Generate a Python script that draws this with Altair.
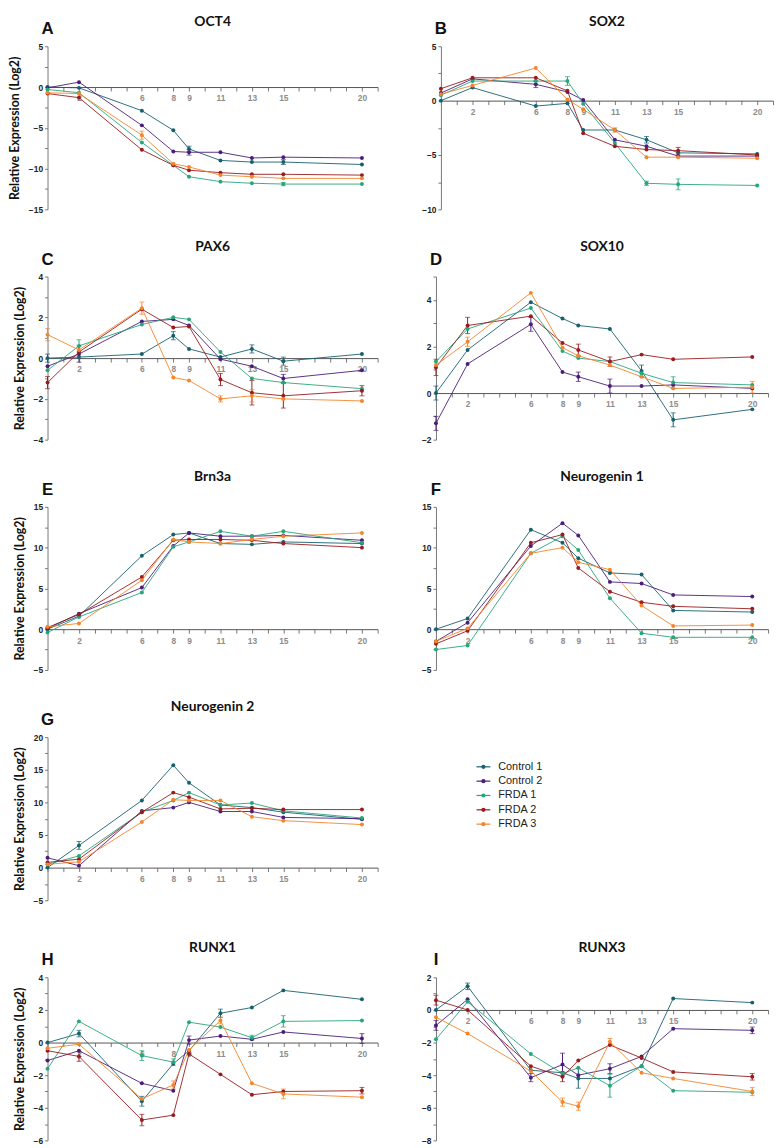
import altair as alt
import pandas as pd

days = [0, 2, 6, 8, 9, 11, 13, 15, 20]
label_days = [2, 6, 8, 9, 11, 13, 15, 20]
series = ["Control 1", "Control 2", "FRDA 1", "FRDA 2", "FRDA 3"]
colors = ["#17606e", "#4b1d7a", "#27a57c", "#981b1e", "#f5852b"]

oct4 = {
    "Control 1": [0, -0.1, -2.9, -5.3, -7.6, -9.0, -9.2, -9.2, -9.5],
    "Control 2": [-0.1, 0.6, -4.7, -7.9, -8.0, -8.0, -8.7, -8.6, -8.7],
    "FRDA 1": [-0.3, -0.7, -6.8, -9.6, -11.0, -11.6, -11.8, -11.9, -11.9],
    "FRDA 2": [-0.8, -1.3, -7.7, -9.6, -10.2, -10.5, -10.7, -10.7, -10.8],
    "FRDA 3": [-0.7, -0.8, -5.9, -9.4, -9.8, -10.8, -11.0, -11.2, -11.2],
}
sox2 = {
    "Control 1": [0, 1.2, -0.5, -0.25, -2.7, -2.7, -3.6, -4.8, -4.9],
    "Control 2": [0.7, 2.0, 1.5, 0.8, 0.05, -3.6, -4.2, -5.1, -5.1],
    "FRDA 1": [0.5, 1.8, 1.8, 1.8, -0.3, -3.9, -7.6, -7.7, -7.8],
    "FRDA 2": [1.1, 2.1, 2.1, 0.9, -3.0, -4.2, -4.5, -4.6, -5.0],
    "FRDA 3": [0.6, 1.4, 3.0, 0.1, -0.8, -2.7, -5.2, -5.2, -5.3],
}
pax6 = {
    "Control 1": [0, 0.05, 0.2, 1.1, 0.45, 0.05, 0.45, -0.15, 0.2],
    "Control 2": [-0.4, 0.2, 1.8, 1.9, 1.6, -0.05, -0.4, -1.0, -0.6],
    "FRDA 1": [-0.6, 0.6, 1.65, 2.0, 1.9, 0.3, -1.0, -1.2, -1.5],
    "FRDA 2": [-1.2, 0.3, 2.4, 1.5, 1.55, -1.05, -1.7, -1.85, -1.6],
    "FRDA 3": [1.15, 0.4, 2.45, -0.95, -1.1, -2.0, -1.85, -2.0, -2.1],
}
sox10 = {
    "Control 1": [0, 1.85, 3.9, 3.2, 2.9, 2.75, 0.95, -1.15, -0.7],
    "Control 2": [-1.3, 1.25, 2.95, 0.9, 0.7, 0.3, 0.3, 0.35, 0.2],
    "FRDA 1": [1.35, 2.75, 3.65, 1.8, 1.5, 1.35, 0.85, 0.45, 0.35],
    "FRDA 2": [1.1, 2.9, 3.3, 2.15, 1.85, 1.35, 1.65, 1.45, 1.55],
    "FRDA 3": [1.2, 2.2, 4.3, 1.95, 1.6, 1.2, 0.7, 0.2, 0.25],
}
brn3a = {
    "Control 1": [0, 1.6, 9.0, 11.6, 11.8, 10.5, 10.4, 10.7, 10.5],
    "Control 2": [0.1, 1.9, 5.1, 10.2, 11.8, 11.4, 11.4, 11.5, 10.9],
    "FRDA 1": [-0.4, 1.5, 4.5, 10.1, 10.7, 12.0, 11.4, 12.0, 10.6],
    "FRDA 2": [0.2, 1.8, 6.4, 10.9, 11.0, 11.0, 10.9, 10.5, 10.0],
    "FRDA 3": [0.3, 0.7, 6.0, 11.0, 10.7, 10.5, 11.0, 11.4, 11.8],
}
ngn1 = {
    "Control 1": [0, 1.3, 12.2, 10.6, 8.7, 6.9, 6.7, 2.3, 2.1],
    "Control 2": [-1.5, 0.8, 10.2, 13.0, 11.5, 5.8, 5.6, 4.2, 4.0],
    "FRDA 1": [-2.5, -2.0, 9.3, 11.4, 9.7, 3.8, -0.5, -1.0, -1.0],
    "FRDA 2": [-1.8, -0.2, 10.6, 11.6, 7.5, 4.6, 3.3, 2.8, 2.5],
    "FRDA 3": [-1.5, 0.1, 9.3, 10.0, 8.2, 7.3, 2.9, 0.4, 0.5],
}
ngn2 = {
    "Control 1": [0, 3.4, 10.3, 15.7, 13.0, 9.6, 9.2, 8.5, 7.4],
    "Control 2": [1.5, 0.3, 8.7, 9.2, 10.0, 8.6, 8.6, 7.7, 7.5],
    "FRDA 1": [0.5, 1.8, 8.5, 10.3, 11.5, 9.6, 9.9, 8.7, 7.6],
    "FRDA 2": [0.8, 1.3, 8.5, 11.5, 10.8, 9.0, 9.1, 8.9, 8.9],
    "FRDA 3": [0.5, 0.9, 7.0, 10.4, 10.3, 10.3, 7.8, 7.2, 6.6],
}
runx1 = {
    "Control 1": [0, 0.55, -3.6, -1.3, -0.5, 1.8, 2.15, 3.2, 2.65],
    "Control 2": [-1.1, -0.5, -2.5, -2.95, 0.15, 0.4, 0.2, 0.65, 0.25],
    "FRDA 1": [-1.6, 1.3, -0.8, -1.2, 1.25, 0.95, 0.3, 1.3, 1.35],
    "FRDA 2": [-0.5, -0.85, -4.75, -4.45, -0.7, -1.95, -3.2, -3.0, -2.95],
    "FRDA 3": [-0.35, -0.1, -3.45, -2.6, -0.45, 1.35, -2.5, -3.15, -3.35],
}
runx3 = {
    "Control 1": [0, 1.45, -3.7, -3.85, -4.2, -4.2, -3.45, 0.7, 0.45],
    "Control 2": [-0.95, 0.65, -4.15, -3.35, -4.0, -3.6, -2.85, -1.15, -1.25],
    "FRDA 1": [-1.8, 0.5, -2.7, -3.9, -3.55, -4.65, -3.45, -4.95, -5.05],
    "FRDA 2": [0.6, 0.0, -3.45, -4.1, -3.1, -2.15, -2.95, -3.8, -4.1],
    "FRDA 3": [-0.45, -1.45, -3.75, -5.65, -5.9, -1.95, -3.85, -4.2, -5.0],
}

# visible error bars: (series, day, +/- error)
oct4_err = [("FRDA 3", 6, 0.5), ("Control 1", 9, 0.35), ("Control 2", 9, 0.35),
            ("Control 1", 15, 0.3), ("FRDA 1", 15, 0.2)]
sox2_err = [("FRDA 1", 8, 0.4), ("Control 2", 6, 0.3), ("Control 1", 13, 0.3),
            ("FRDA 1", 13, 0.2), ("FRDA 1", 15, 0.5), ("FRDA 2", 15, 0.3),
            ("FRDA 3", 11, 0.2)]
pax6_err = [("FRDA 3", 0, 0.3), ("FRDA 2", 0, 0.3), ("Control 1", 0, 0.2),
            ("FRDA 1", 2, 0.3), ("Control 2", 2, 0.4), ("FRDA 3", 6, 0.3),
            ("Control 1", 8, 0.2), ("FRDA 2", 11, 0.3), ("Control 1", 13, 0.2),
            ("FRDA 2", 13, 0.6), ("FRDA 2", 15, 0.6), ("Control 1", 15, 0.2),
            ("Control 2", 15, 0.2), ("FRDA 2", 20, 0.25), ("FRDA 3", 11, 0.15),
            ("FRDA 3", 13, 0.3)]
sox10_err = [("FRDA 2", 2, 0.35), ("Control 1", 0, 0.3), ("FRDA 2", 0, 0.35),
             ("Control 2", 0, 0.3), ("Control 2", 6, 0.3), ("FRDA 3", 2, 0.2),
             ("Control 2", 9, 0.2), ("FRDA 2", 9, 0.25), ("Control 2", 11, 0.3),
             ("Control 1", 13, 0.25), ("FRDA 1", 15, 0.25), ("Control 1", 15, 0.3),
             ("FRDA 3", 20, 0.25), ("FRDA 2", 11, 0.2)]
brn3a_err = []
ngn1_err = []
ngn2_err = [("Control 1", 2, 0.6)]
runx1_err = [("Control 1", 2, 0.2), ("FRDA 2", 2, 0.3), ("FRDA 1", 6, 0.3),
             ("Control 1", 6, 0.3), ("FRDA 2", 6, 0.35), ("FRDA 3", 8, 0.25),
             ("FRDA 1", 8, 0.2), ("Control 2", 9, 0.25), ("Control 1", 11, 0.25),
             ("FRDA 3", 11, 0.2), ("FRDA 1", 15, 0.35), ("FRDA 3", 15, 0.3),
             ("FRDA 2", 20, 0.2), ("Control 2", 20, 0.3), ("FRDA 1", 13, 0.15)]
runx3_err = [("Control 1", 2, 0.2), ("FRDA 2", 0, 0.3), ("Control 2", 0, 0.3),
             ("Control 2", 6, 0.25), ("Control 2", 8, 0.7), ("Control 1", 9, 0.6),
             ("FRDA 3", 8, 0.25), ("FRDA 3", 9, 0.25), ("FRDA 1", 11, 0.7),
             ("Control 2", 11, 0.3), ("FRDA 2", 8, 0.3), ("FRDA 3", 11, 0.2),
             ("Control 2", 20, 0.2), ("FRDA 3", 20, 0.25), ("FRDA 2", 20, 0.2)]

H = 165
LEFT_W = 334
RIGHT_W = 336
color_scale = alt.Scale(domain=series, range=colors)


def panel(letter, title, vals, errs, ymin, ymax, step, minor, width, ytitle, title_y=-30):
    rows = []
    for s in series:
        for d, v in zip(days, vals[s]):
            rows.append({"day": d, "value": v, "series": s})
    df = pd.DataFrame(rows)
    erows = []
    for s, d, e in errs:
        v = vals[s][days.index(d)]
        erows.append({"day": d, "series": s, "lo": v - e, "hi": v + e})
    edf = pd.DataFrame(erows if erows else [{"day": 0, "series": series[0], "lo": 0.0, "hi": 0.0}])
    off = -H * (0 - ymin) / (ymax - ymin)
    yvals = []
    v = ymin
    while v <= ymax + 1e-9:
        yvals.append(round(v, 3))
        v += minor
    xsc = alt.Scale(domain=[0, 21], nice=False, zero=False)
    ysc = alt.Scale(domain=[ymin, ymax], nice=False, zero=False)
    xax = alt.Axis(
        values=list(range(0, 22)),
        labelExpr="indexof(%s, datum.value) >= 0 ? datum.label : ''" % str(label_days),
        offset=off, title=None, grid=False, tickSize=4, labelOverlap=False,
        labelColor="#8c8c8c", labelFontWeight="bold", labelFontSize=8.5,
        labelFont="Liberation Sans", domainColor="#555555", tickColor="#777777",
        labelPadding=3,
    )
    yax = alt.Axis(
        values=yvals, labelOverlap=False,
        labelExpr="datum.value %% %s == 0 ? datum.label : ''" % step,
        title="Relative Expression (Log2)" if ytitle else None,
        titleFont="Lato", titleFontSize=12.5, titleFontWeight="bold",
        titleColor="#111111", titlePadding=7,
        grid=False, tickSize=3, labelFontSize=8.5, labelFontWeight="bold",
        labelFont="Liberation Sans", labelColor="#222222",
        domainColor="#777777", tickColor="#777777", labelPadding=2,
    )
    col = alt.Color("series:N", scale=color_scale, legend=None)
    base = alt.Chart(df).encode(
        x=alt.X("day:Q", scale=xsc, axis=xax),
        y=alt.Y("value:Q", scale=ysc, axis=yax),
        color=col,
    )
    line = base.mark_line(strokeWidth=1, opacity=0.9).encode(detail="series:N")
    pts = base.mark_circle(size=16, opacity=1)
    ebase = alt.Chart(edf).encode(x=alt.X("day:Q", scale=xsc, axis=xax), color=col)
    erule = ebase.mark_rule(strokeWidth=1).encode(
        y=alt.Y("lo:Q", scale=ysc, axis=yax), y2="hi:Q")
    ecap_lo = ebase.mark_tick(orient="horizontal", size=5, thickness=1).encode(
        y=alt.Y("lo:Q", scale=ysc, axis=yax))
    ecap_hi = ebase.mark_tick(orient="horizontal", size=5, thickness=1).encode(
        y=alt.Y("hi:Q", scale=ysc, axis=yax))
    lab = alt.Chart(pd.DataFrame({"t": [letter]})).mark_text(
        font="Liberation Sans", fontSize=17, fontWeight="bold", color="#111111",
        align="center", baseline="middle",
    ).encode(text="t:N", x=alt.value(0), y=alt.value(-17))
    ttl = alt.Chart(pd.DataFrame({"t": [title]})).mark_text(
        font="Lato", fontSize=14, fontWeight="bold", color="#111111",
        align="center", baseline="middle",
    ).encode(text="t:N", x=alt.value(width / 2), y=alt.value(title_y))
    layers = [line]
    if erows:
        layers += [erule, ecap_lo, ecap_hi]
    layers += [pts, lab, ttl]
    return alt.layer(*layers).properties(width=width, height=H)


def legend_panel():
    df = pd.DataFrame({"series": series, "i": list(range(len(series)))})
    ys = alt.Y("i:Q", scale=alt.Scale(domain=[-2.07, 9.31], reverse=True), axis=None)
    c = alt.Color("series:N", scale=color_scale, legend=None)
    base = alt.Chart(df)
    rule = base.mark_rule(strokeWidth=1.2).encode(
        x=alt.value(56), x2=alt.value(70), y=ys, color=c)
    dot = base.mark_circle(size=18, opacity=1).encode(x=alt.value(63), y=ys, color=c)
    txt = base.mark_text(align="left", baseline="middle", font="Liberation Sans",
                         fontSize=11, color="#222222").encode(
        x=alt.value(78), y=ys, text="series:N")
    return alt.layer(rule, dot, txt).properties(width=RIGHT_W, height=H)


SP = 43
row1 = alt.hconcat(
    panel("A", "OCT4", oct4, oct4_err, -15, 5, 5, 2.5, LEFT_W, True, -25),
    panel("B", "SOX2", sox2, sox2_err, -10, 5, 5, 2.5, RIGHT_W, False, -25),
    spacing=SP,
)
row2 = alt.hconcat(
    panel("C", "PAX6", pax6, pax6_err, -4, 4, 2, 1, LEFT_W, True),
    panel("D", "SOX10", sox10, sox10_err, -2, 5, 2, 1, RIGHT_W, False),
    spacing=SP,
)
row3 = alt.hconcat(
    panel("E", "Brn3a", brn3a, brn3a_err, -5, 15, 5, 2.5, LEFT_W, True),
    panel("F", "Neurogenin 1", ngn1, ngn1_err, -5, 15, 5, 2.5, RIGHT_W, False),
    spacing=SP,
)
row4 = alt.hconcat(
    panel("G", "Neurogenin 2", ngn2, ngn2_err, -5, 20, 5, 2.5, LEFT_W, True),
    legend_panel(),
    spacing=SP,
)
row5 = alt.hconcat(
    panel("H", "RUNX1", runx1, runx1_err, -6, 4, 2, 1, LEFT_W, True),
    panel("I", "RUNX3", runx3, runx3_err, -8, 2, 2, 1, RIGHT_W, False),
    spacing=SP,
)

upper = alt.vconcat(row1, row2, row3, row4, spacing=26)
chart = alt.vconcat(upper, row5, spacing=36).configure(
    background="white", padding=0
).configure_view(stroke=None).configure_axis(labelOverlap=False)

chart.save("out.html", embed_options={"renderer": "svg", "actions": False})
